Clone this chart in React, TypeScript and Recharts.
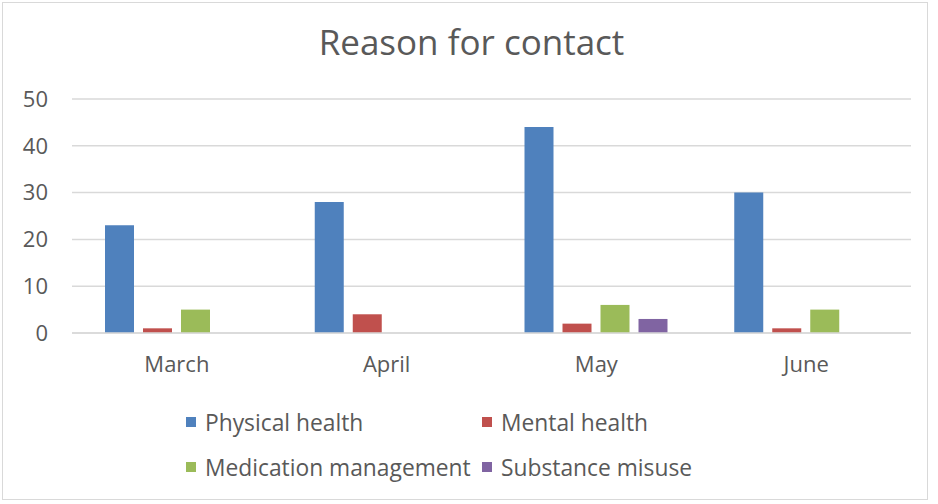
import React from 'react';
import { BarChart, Bar, XAxis, YAxis, CartesianGrid, Legend } from 'recharts';

const months = ['March', 'April', 'May', 'June'];
const physicalHealth = [23, 28, 44, 30];
const mentalHealth = [1, 4, 2, 1];
const medicationManagement = [5, 0, 6, 5];
const substanceMisuse = [0, 0, 3, 0];
const yTicks = [0, 10, 20, 30, 40, 50];

const series = [
  { key: 'physical', name: 'Physical health', color: '#4F81BD' },
  { key: 'mental', name: 'Mental health', color: '#C0504D' },
  { key: 'medication', name: 'Medication management', color: '#9BBB59' },
  { key: 'substance', name: 'Substance misuse', color: '#8064A2' },
];

const data = months.map((m, i) => ({
  month: m,
  physical: physicalHealth[i],
  mental: mentalHealth[i],
  medication: medicationManagement[i],
  substance: substanceMisuse[i],
}));

const FONT = '"Open Sans", sans-serif';
const TEXT = '#595959';

const legendPos = [
  { left: 186, top: 422 },
  { left: 482, top: 422 },
  { left: 186, top: 467 },
  { left: 482, top: 467 },
];

const renderLegend = () => (
  <div style={{ position: 'relative', width: 938, height: 100 }}>
    {series.map((s, i) => (
      <div
        key={s.key}
        style={{
          position: 'absolute',
          left: legendPos[i].left,
          top: legendPos[i].top - 400 - 15,
          height: 30,
          display: 'flex',
          alignItems: 'center',
          fontFamily: FONT,
          fontSize: 22.8,
          color: TEXT,
          whiteSpace: 'nowrap',
        }}
      >
        <span style={{ display: 'inline-block', width: 10, height: 10, background: s.color, marginRight: 9 }} />
        <span>{s.name}</span>
      </div>
    ))}
  </div>
);

export default function App() {
  return (
    <div style={{ position: 'absolute', left: 0, top: 0, width: 938, height: 504, background: '#fff' }}>
      <div
        style={{
          position: 'absolute',
          left: 2,
          top: 2,
          width: 926,
          height: 498,
          border: '1px solid #D9D9D9',
          boxSizing: 'border-box',
        }}
      />
      <div
        style={{
          position: 'absolute',
          left: 0,
          top: 24,
          width: 943,
          textAlign: 'center',
          fontFamily: FONT,
          fontSize: 35,
          lineHeight: '35px',
          color: TEXT,
        }}
      >
        Reason for contact
      </div>
      <BarChart
        width={938}
        height={504}
        data={data}
        margin={{ top: 99, right: 27, left: 0, bottom: 111 }}
        barCategoryGap={33}
        barGap={9}
        style={{ position: 'absolute', left: 0, top: 0 }}
      >
        <CartesianGrid horizontal={true} vertical={false} stroke="#D9D9D9" strokeWidth={1.5} />
        <XAxis
          dataKey="month"
          height={60}
          axisLine={{ stroke: '#D9D9D9', strokeWidth: 1.5 }}
          tickLine={false}
          tickMargin={17}
          tick={{ fill: TEXT, fontFamily: FONT, fontSize: 22 }}
        />
        <YAxis
          width={72}
          domain={[0, 50]}
          ticks={yTicks}
          axisLine={false}
          tickLine={false}
          tickMargin={18}
          tick={{ fill: TEXT, fontFamily: FONT, fontSize: 22 }}
        />
        <Legend
          layout="vertical"
          align="center"
          verticalAlign="middle"
          content={renderLegend}
          wrapperStyle={{ top: 400, left: 0, width: 938, height: 100 }}
        />
        {series.map((s) => (
          <Bar key={s.key} dataKey={s.key} name={s.name} fill={s.color} isAnimationActive={false} />
        ))}
      </BarChart>
    </div>
  );
}
